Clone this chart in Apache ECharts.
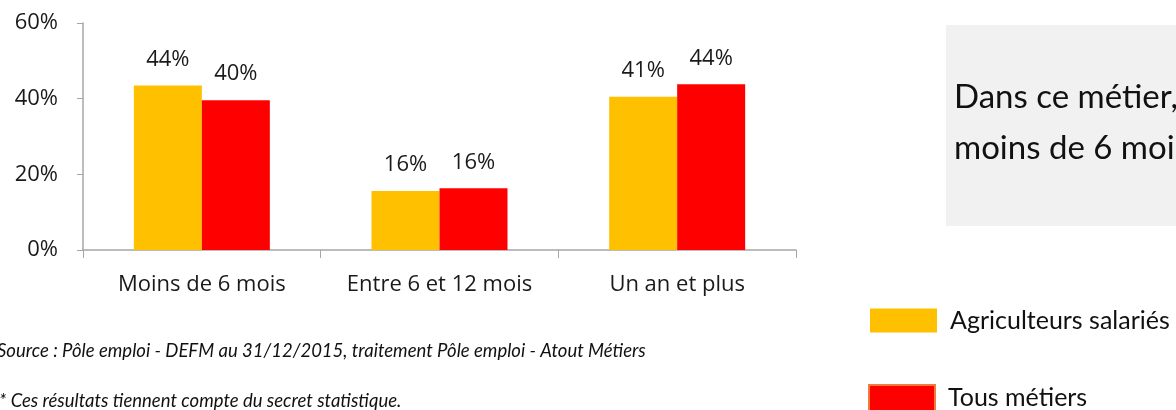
<!DOCTYPE html>
<html lang="fr">
<head>
  <meta charset="UTF-8">
  <title>Ancienneté d'inscription</title>
  <script src="https://cdn.jsdelivr.net/npm/echarts@6/dist/echarts.min.js"></script>
  <style>
    body { margin: 0; padding: 0; background: #fff; }
    #main { width: 1176px; height: 410px; }
  </style>
</head>
<body>
  <div id="main"></div>
  <script>
    // données
    var categories = ['Moins de 6 mois', 'Entre 6 et 12 mois', 'Un an et plus'];
    var agriculteurs = [43.5, 15.6, 40.5];
    var tousMetiers = [39.6, 16.3, 43.8];
    var labelsAgri = ['44%', '16%', '41%'];
    var labelsTous = ['40%', '16%', '44%'];
    var yTicks = [0, 20, 40, 60];

    var chart = echarts.init(document.getElementById('main'));

    var legendText = { fontFamily: 'Lato', fontSize: 25, color: '#111', padding: [0, 0, 0, 8] };

    var option = {
      animation: false,
      grid: { left: 83, right: 380, top: 23, bottom: 160 },
      legend: [
        {
          left: 870, top: 308, padding: 0, icon: 'rect',
          itemWidth: 67, itemHeight: 24,
          textStyle: legendText,
          data: [{ name: 'Agriculteurs salariés' }]
        },
        {
          left: 868, top: 384, padding: 0, icon: 'rect',
          itemWidth: 66, itemHeight: 26,
          textStyle: legendText,
          data: [{ name: 'Tous métiers', itemStyle: { borderColor: '#f47b3c', borderWidth: 2 } }]
        }
      ],
      xAxis: {
        type: 'category',
        data: categories,
        axisLine: { lineStyle: { color: '#a6a6a6', width: 1.5 } },
        axisTick: { show: true, length: 8, lineStyle: { color: '#a6a6a6' } },
        axisLabel: { interval: 0, fontFamily: 'Open Sans', fontSize: 22, color: '#1a1a1a', margin: 24 }
      },
      yAxis: {
        type: 'value',
        min: yTicks[0],
        max: yTicks[yTicks.length - 1],
        interval: 20,
        splitLine: { show: false },
        axisLine: { show: true, lineStyle: { color: '#a6a6a6', width: 1.5 } },
        axisTick: { show: true, length: 6, lineStyle: { color: '#a6a6a6' } },
        axisLabel: {
          fontFamily: 'Open Sans', fontSize: 22, color: '#1a1a1a', margin: 25,
          formatter: function (v) { return v + '%'; }
        }
      },
      series: [
        {
          name: 'Agriculteurs salariés',
          type: 'bar',
          barWidth: 68,
          barGap: '0%',
          itemStyle: { color: '#ffc000' },
          label: {
            show: true, position: 'top', distance: 15,
            fontFamily: 'Open Sans', fontSize: 22, color: '#1a1a1a',
            formatter: function (p) { return labelsAgri[p.dataIndex]; }
          },
          data: agriculteurs
        },
        {
          name: 'Tous métiers',
          type: 'bar',
          barWidth: 68,
          barGap: '0%',
          itemStyle: { color: '#ff0000' },
          label: {
            show: true, position: 'top', distance: 15,
            fontFamily: 'Open Sans', fontSize: 22, color: '#1a1a1a',
            formatter: function (p) { return labelsTous[p.dataIndex]; }
          },
          data: tousMetiers
        }
      ],
      graphic: [
        {
          type: 'rect', left: 946, top: 25, z: -1,
          shape: { width: 240, height: 201 },
          style: { fill: '#f1f1f1' }
        },
        {
          type: 'text', left: 954, top: 81,
          style: { text: 'Dans ce métier,', fontFamily: 'Lato', fontSize: 33, fill: '#111' }
        },
        {
          type: 'text', left: 954, top: 132,
          style: { text: 'moins de 6 mois', fontFamily: 'Lato', fontSize: 33, fill: '#111' }
        },
        {
          type: 'text', left: -3, top: 342,
          style: {
            text: 'Source : Pôle emploi - DEFM au 31/12/2015, traitement Pôle emploi - Atout Métiers',
            fontFamily: 'Lato', fontStyle: 'italic', fontSize: 18.5, fill: '#111'
          }
        },
        {
          type: 'text', left: -1, top: 392,
          style: {
            text: '* Ces résultats tiennent compte du secret statistique.',
            fontFamily: 'Lato', fontStyle: 'italic', fontSize: 18.5, fill: '#111'
          }
        }
      ]
    };

    chart.setOption(option);
  </script>
</body>
</html>
